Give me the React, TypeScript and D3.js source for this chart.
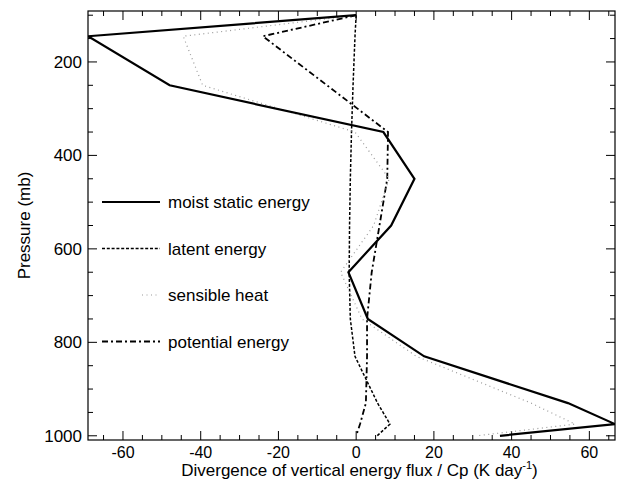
import React, { useRef, useEffect } from 'react';
import * as d3 from 'd3';

// pressure levels (mb) and divergence of vertical energy flux / Cp (K/day)
const pressure = [100, 145, 250, 350, 450, 550, 650, 750, 830, 930, 975, 1000];
const moistStatic = [0, -69, -48, 7, 15, 9, -2, 3, 17.5, 54.5, 66.6, 37];
const latent = [0, -0.3, -0.8, -1.2, -1.5, -1.7, -1.8, -1.5, -0.3, 5.5, 8.7, 5.4];
const sensible = [0, -44.5, -39.5, -0.3, 8.5, 4.5, -4, 1.5, 15.5, 45, 56.3, 31];
const potential = [0, -24, -7.5, 8.2, 8, 6, 4, 2.8, 2.8, 2.5, 1, 0];

const seriesNames = ['moist static energy', 'latent energy', 'sensible heat', 'potential energy'];
const xTicks = [-60, -40, -20, 0, 20, 40, 60];
const yTicks = [200, 400, 600, 800, 1000];

const styles = [
  { color: '#000', width: 2.2, dash: null },
  { color: '#000', width: 1.5, dash: '3,1.8' },
  { color: '#9a9a9a', width: 1.2, dash: '1,3.5' },
  { color: '#000', width: 1.8, dash: '6,3,2,3' },
];

const App = () => {
  const ref = useRef(null);

  const W = 624, H = 485;
  const margin = { top: 11, right: 9, bottom: 45, left: 88 };
  const width = W - margin.left - margin.right;
  const height = H - margin.top - margin.bottom;

  useEffect(() => {
    const root = d3.select(ref.current);
    root.selectAll('*').remove();

    const svg = root.append('svg')
      .attr('width', W)
      .attr('height', H)
      .style('position', 'absolute')
      .style('left', 0)
      .style('top', 0)
      .style('background', '#fff')
      .style('font-family', 'Liberation Sans, Arial, sans-serif');

    const g = svg.append('g').attr('transform', `translate(${margin.left},${margin.top})`);

    const x = d3.scaleLinear().domain([-69, 66.6]).range([0, width]);
    const y = d3.scaleLinear().domain([91, 1009]).range([0, height]);

    g.append('clipPath').attr('id', 'clip')
      .append('rect').attr('width', width).attr('height', height);

    // minor / major ticks, drawn inward on all four sides
    const xMinor = d3.range(-65, 66, 5);
    const yMinor = d3.range(100, 1001, 50);
    const tickG = g.append('g').attr('stroke', '#000').attr('stroke-width', 1);
    xMinor.forEach((v) => {
      const len = v % 20 === 0 ? 9 : 5;
      tickG.append('line').attr('x1', x(v)).attr('x2', x(v)).attr('y1', height).attr('y2', height - len);
      tickG.append('line').attr('x1', x(v)).attr('x2', x(v)).attr('y1', 0).attr('y2', len);
    });
    yMinor.forEach((v) => {
      const len = v % 200 === 0 ? 9 : 5;
      tickG.append('line').attr('x1', 0).attr('x2', len).attr('y1', y(v)).attr('y2', y(v));
      tickG.append('line').attr('x1', width).attr('x2', width - len).attr('y1', y(v)).attr('y2', y(v));
    });

    // frame
    g.append('rect')
      .attr('width', width).attr('height', height)
      .attr('fill', 'none').attr('stroke', '#000').attr('stroke-width', 1.2);

    // tick labels
    g.selectAll('.xl').data(xTicks).enter().append('text')
      .attr('x', (d) => x(d)).attr('y', height + 18)
      .attr('text-anchor', 'middle').attr('font-size', 16)
      .text((d) => d);
    g.selectAll('.yl').data(yTicks).enter().append('text')
      .attr('x', -6).attr('y', (d) => y(d) + 6)
      .attr('text-anchor', 'end').attr('font-size', 17)
      .text((d) => d);

    // axis titles
    const xt = g.append('text')
      .attr('x', width / 2 + 8).attr('y', height + 36)
      .attr('text-anchor', 'middle').attr('font-size', 17);
    xt.append('tspan').text('Divergence of vertical energy flux / Cp (K day');
    xt.append('tspan').attr('dy', -7).attr('font-size', 11).text('-1');
    xt.append('tspan').attr('dy', 7).text(')');

    g.append('text')
      .attr('transform', `translate(${-58},${height / 2}) rotate(-90)`)
      .attr('text-anchor', 'middle').attr('font-size', 17)
      .text('Pressure (mb)');

    // profiles
    const allSeries = [moistStatic, latent, sensible, potential];
    const line = d3.line()
      .x((d) => x(d[0]))
      .y((d) => y(d[1]));

    const plot = g.append('g').attr('clip-path', 'url(#clip)');
    [3, 1, 2, 0].forEach((i) => {
      const pts = allSeries[i].map((v, k) => [v, pressure[k]]);
      plot.append('path')
        .datum(pts)
        .attr('d', line)
        .attr('fill', 'none')
        .attr('stroke', styles[i].color)
        .attr('stroke-width', styles[i].width)
        .attr('stroke-dasharray', styles[i].dash)
        .attr('stroke-linejoin', 'miter');
    });

    // legend
    const leg = g.append('g').attr('transform', 'translate(14,191)');
    seriesNames.forEach((name, i) => {
      const ly = i * 46.5;
      leg.append('line')
        .attr('x1', i === 2 ? 40 : 0).attr('x2', 58).attr('y1', ly).attr('y2', ly)
        .attr('stroke', styles[i].color)
        .attr('stroke-width', styles[i].width)
        .attr('stroke-dasharray', styles[i].dash);
      leg.append('text')
        .attr('x', 66).attr('y', ly + 6)
        .attr('font-size', 17)
        .text(name);
    });
  });

  return <div id="graph" ref={ref}></div>;
};

export default App;
